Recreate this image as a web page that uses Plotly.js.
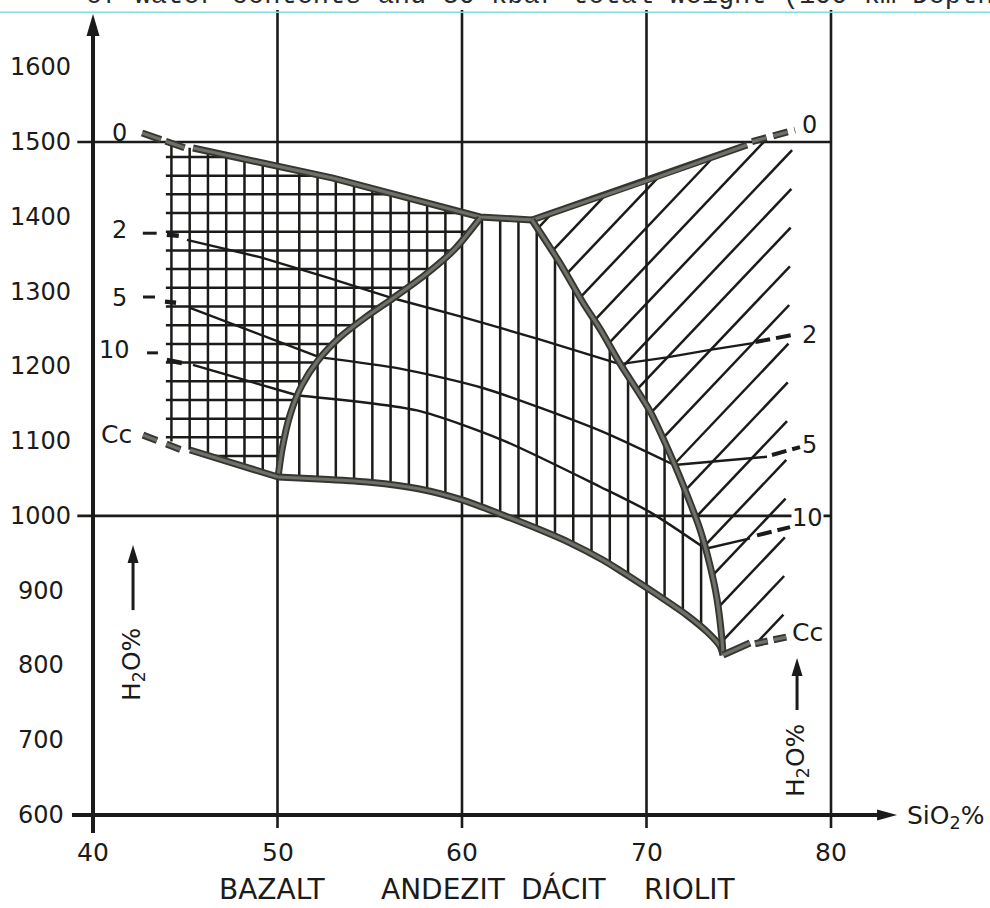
<!DOCTYPE html>
<html><head><meta charset="utf-8">
<script src="https://cdn.plot.ly/plotly-3.0.1.min.js"></script>
<style>html,body{margin:0;padding:0;background:#fff;}#chart{width:990px;height:908px;}</style>
</head><body><div id="chart"></div>
<script>
// ---------- axis / label values ----------
const xTickVals = [40, 50, 60, 70, 80];
const yTickVals = [600, 700, 800, 900, 1000, 1100, 1200, 1300, 1400, 1500, 1600];
const rockNames = ['BAZALT', 'ANDEZIT', 'DÁCIT', 'RIOLIT'];
const rockX = [49.69, 59.02, 65.53, 72.36];
const gridX = [50, 60, 70, 80];
const gridY = [1000, 1500];

// ---------- thick phase boundaries (SiO2 %, temperature) ----------
const liquidusLeft  = [[45.42,1491.9],[53.01,1451.6],[60.98,1399.7],[63.79,1395.7]];
const liquidusRight = [[63.79,1395.7],[70.46,1451.8],[75.45,1496]];
const innerBoundary = [[50.03,1052],[50.24,1088],[50.68,1135],[51.33,1175],[52.20,1208],[53.39,1239],[54.74,1265],[56.26,1291],[57.99,1322],[59.62,1357],[60.98,1398]];
const rightBoundary = [[63.79,1395.7],[65.31,1338],[66.56,1285],[67.48,1250],[68.56,1204],[70.19,1140],[71.38,1077],[72.20,1028],[72.9,982],[73.44,934],[73.82,889],[74.09,835],[74.15,814]];
const solidusLower  = [[50.03,1052],[52.5,1049],[55.0,1045],[57.7,1036],[60.05,1021],[62.22,1001],[64.07,983],[65.85,964],[67.64,941],[68.56,927],[70.25,900],[72.2,867],[73.28,845],[73.98,826],[74.15,814]];
const solidusLeft   = [[45.26,1088.1],[50.03,1052]];
const solidusRight  = [[74.15,814],[75.61,830]];
// dashed thick extensions
const dash0Left   = [[42.66,1512],[44.99,1492]];
const dash0Right  = [[75.72,1500.5],[78.05,1516]];
const dashCcLeft  = [[42.71,1108],[44.82,1088]];
const dashCcRight = [[75.88,829],[77.78,839]];

// ---------- water isopleths (2, 5, 10 % H2O) ----------
const water2L  = [[45.09,1369],[49.05,1346],[52.68,1319],[56.26,1291]];
const water2M  = [[56.26,1291],[60.0,1266],[64.2,1236],[68.56,1203]];
const water2R  = [[68.56,1203],[71.11,1212],[73.44,1222],[75.77,1231]];
const water5L  = [[45.26,1278],[52.3,1212]];
const water5M  = [[52.3,1212],[56.64,1197],[61.14,1171],[67.48,1114],[71.5,1068]];
const water5R  = [[71.5,1068],[76.53,1079]];
const water10L = [[45.42,1202],[51.1,1161]];
const water10M = [[51.1,1161],[57.56,1141],[62.22,1101],[67.48,1039],[70.19,1005],[73.2,956]];
const water10R = [[73.2,956],[75.61,970]];
const dash2Right  = [[75.9,1232.5],[77.94,1242]];
const dash5Right  = [[76.8,1081.4],[78.32,1092]];
const dash10Right = [[75.99,974],[77.78,985]];
const leftLeaders = [
  [[42.7,1378],[43.45,1378]], [[44.0,1376],[44.65,1374.5]],
  [[42.71,1292.7],[43.36,1292.7]], [[43.9,1286.5],[44.5,1285]],
  [[42.93,1218],[43.52,1218]], [[44.0,1208.5],[44.82,1204.4]]
];

// ---------- curve labels ----------
const curveLabels = ['0','2','5','10','Cc'];
const labelPosLeft  = [[41.46,1512.6],[41.46,1382.3],[41.44,1290.7],[41.19,1221.8],[41.27,1108.2]];
const labelPosRight = [[78.81,1522.7],[78.86,1241.9],[78.86,1094.8],[78.75,997.2],[78.75,844.7]];

// ---------- arrows ----------
const yAxisArrow = {x:40, from:575.9, to:1671};
const xAxisArrow = {y:600, from:38.86, to:83.58};
const waterArrowLeft  = {x:42.17, from:874, to:961};
const waterArrowRight = {x:78.16, from:740.4, to:810};

// ---------- view ----------
const X0 = 34.959, X1 = 88.618, Y0 = 475.63, Y1 = 1689.86;
const W = 990, H = 908;
const SX = W / (X1 - X0), SY = H / (Y1 - Y0);

const INK = '#1b1b19';
const THICK_OUT = '#353632', THICK_IN = '#6f7169';
const FONT = 'DejaVu Sans, Liberation Sans, sans-serif';

// ---------- helpers ----------
function xy(pts){ return {x: pts.map(p => p[0]), y: pts.map(p => p[1])}; }
function lineTrace(pts, color, width, shape, dash){
  return Object.assign({type:'scatter', mode:'lines', hoverinfo:'skip',
    line:{color:color, width:width, shape: shape || 'linear', smoothing: 0.7, dash: dash || 'solid'}}, xy(pts));
}
function thick(pts, shape, dash){
  return [lineTrace(pts, THICK_OUT, 7, shape, dash), lineTrace(pts, THICK_IN, 3.2, shape, dash)];
}
// clip an infinite line (point p, direction d in pixel-scaled space) to a polygon
function clip(poly, p, d){
  const P = poly.map(q => [q[0]*SX, q[1]*SY]);
  const ts = [];
  for (let i = 0; i < P.length; i++){
    const a = P[i], b = P[(i+1) % P.length];
    const ex = b[0]-a[0], ey = b[1]-a[1];
    const den = d[0]*ey - d[1]*ex;
    if (Math.abs(den) < 1e-9) continue;
    const ax = a[0]-p[0], ay = a[1]-p[1];
    const t = (ax*ey - ay*ex) / den;
    const s = (ax*d[1] - ay*d[0]) / den;
    if (s >= 0 && s < 1) ts.push(t);
  }
  ts.sort((u,v) => u-v);
  const segs = [];
  for (let i = 0; i+1 < ts.length; i += 2){
    segs.push([[(p[0]+ts[i]*d[0])/SX, (p[1]+ts[i]*d[1])/SY],
               [(p[0]+ts[i+1]*d[0])/SX, (p[1]+ts[i+1]*d[1])/SY]]);
  }
  return segs;
}
function segTrace(segs, color, width){
  const x = [], y = [];
  segs.forEach(s => { x.push(s[0][0], s[1][0], null); y.push(s[0][1], s[1][1], null); });
  return {type:'scatter', mode:'lines', hoverinfo:'skip', x:x, y:y, line:{color:color, width:width}};
}
function arrowHead(xt, yt, dx, dy, len, hw){
  const bx = xt - len*dx/SX, by = yt - len*dy/SY;
  const px = -dy, py = dx;
  const p1 = [bx + hw*px/SX, by + hw*py/SY];
  const p2 = [bx - hw*px/SX, by - hw*py/SY];
  return {type:'path', xref:'x', yref:'y', layer:'above',
    path:'M'+xt+','+yt+' L'+p1[0]+','+p1[1]+' L'+p2[0]+','+p2[1]+' Z',
    fillcolor:INK, line:{width:0}};
}

// ---------- hatch regions ----------
const outerPoly = [[44.2,1495], ...liquidusLeft, ...rightBoundary.slice(1),
  ...solidusLower.slice(0,-1).reverse(), solidusLeft[0], [44.2,1100]];
const crossPoly = [[43.95,1098],[43.95,1495], ...liquidusLeft.slice(0,3),
  ...innerBoundary.slice().reverse(), solidusLeft[0], [44.3,1096]];
const diagPoly = [...liquidusRight, [75.9,1500],[77.9,1500],[77.4,840], solidusRight[1], solidusRight[0],
  ...rightBoundary.slice(0,-1).reverse()];

let hatch = [];
// vertical hatch
for (let k = 0; k < 30; k++){
  const xv = 44.25 + 0.99*k;
  if (gridX.some(g => Math.abs(g - xv) < 0.3)) continue;
  hatch = hatch.concat(clip(outerPoly, [xv*SX, 0], [0, 1]));
}
// horizontal hatch (crossed region)
for (let k = -2; k <= 16; k++){
  const yv = 1105 + 25*k;
  hatch = hatch.concat(clip(crossPoly, [0, yv*SY], [1, 0]));
}
// diagonal hatch (rhyolite field)
const th = 46.5 * Math.PI / 180;
for (let k = -8; k <= 14; k++){
  const y0 = 1488 - 50.75*k;
  hatch = hatch.concat(clip(diagPoly, [77.85*SX, y0*SY], [Math.cos(th), Math.sin(th)]));
}

// ---------- traces ----------
const traces = [];
traces.push(segTrace(hatch, INK, 2.5));
[water2L, water5L, water10L, water5R, water10R, water2R].forEach(s => traces.push(lineTrace(s, INK, 2.4)));
[water2M, water5M, water10M].forEach(s => traces.push(lineTrace(s, INK, 2.4, 'spline')));
[dash2Right, dash5Right, dash10Right].forEach(s => traces.push(lineTrace(s, INK, 4, 'linear', '15px,6px')));
leftLeaders.forEach((s, i) => traces.push(lineTrace(s, INK, i % 2 ? 4.5 : 3)));
traces.push(...thick(liquidusLeft));
traces.push(...thick(liquidusRight));
traces.push(...thick(innerBoundary, 'spline'));
traces.push(...thick(solidusLower, 'spline'));
traces.push(...thick(rightBoundary, 'spline'));
traces.push(...thick(solidusLeft));
traces.push(...thick(solidusRight));
traces.push(...thick(dash0Left, 'linear', '20px,5px'));
traces.push(...thick(dash0Right, 'linear', '15px,7px'));
traces.push(...thick(dashCcLeft, 'linear', '15px,10px'));
traces.push(...thick(dashCcRight, 'linear', '13px,6px'));

// ---------- shapes ----------
const shapes = [];
shapes.push({type:'line', xref:'paper', yref:'paper', x0:0, x1:1, y0:1-12.3/H, y1:1-12.3/H,
  line:{color:'#86dcdc', width:1.5}, layer:'above'});
gridX.forEach(g => shapes.push({type:'line', xref:'x', yref:'y', x0:g, x1:g, y0:582.6, y1:1676.5,
  line:{color:INK, width:2.6}, layer:'below'}));
gridY.forEach(g => shapes.push({type:'line', xref:'x', yref:'y', x0:39.15, x1:80, y0:g, y1:g,
  line:{color:INK, width:2.6}, layer:'below'}));
shapes.push({type:'line', xref:'x', yref:'y', x0:yAxisArrow.x, x1:yAxisArrow.x, y0:yAxisArrow.from, y1:yAxisArrow.to - 16/SY,
  line:{color:INK, width:4}, layer:'above'});
shapes.push(arrowHead(yAxisArrow.x, yAxisArrow.to, 0, 1, 22, 6.5));
shapes.push({type:'line', xref:'x', yref:'y', x0:xAxisArrow.from, x1:xAxisArrow.to - 14/SX, y0:xAxisArrow.y, y1:xAxisArrow.y,
  line:{color:INK, width:4}, layer:'above'});
shapes.push(arrowHead(xAxisArrow.to, xAxisArrow.y, 1, 0, 20, 5.5));
[waterArrowLeft, waterArrowRight].forEach(a => {
  shapes.push({type:'line', xref:'x', yref:'y', x0:a.x, x1:a.x, y0:a.from, y1:a.to - 14/SY,
    line:{color:INK, width:3}, layer:'above'});
  shapes.push(arrowHead(a.x, a.to, 0, 1, 18, 5.5));
});

// ---------- annotations ----------
const ann = [];
function txt(x, y, text, size, extra){
  return Object.assign({xref:'x', yref:'y', x:x, y:y, text:text, showarrow:false,
    font:{family:FONT, size:size, color:INK}, xanchor:'center', yanchor:'middle'}, extra || {});
}
yTickVals.forEach(v => ann.push(txt(37.18, v, String(v), 24)));
xTickVals.forEach(v => ann.push(txt(v, 549.2, String(v), 25)));
rockNames.forEach((n, i) => ann.push(txt(rockX[i], 501, n, 28)));
curveLabels.forEach((l, i) => {
  const sz = l === 'Cc' ? 25 : 24;
  ann.push(txt(labelPosLeft[i][0], labelPosLeft[i][1], l, sz));
  ann.push(txt(labelPosRight[i][0], labelPosRight[i][1], l, sz,
    l === '10' ? {bgcolor:'#ffffff', borderpad:0} : {}));
});
ann.push(txt(84.01, 597.3, 'SiO<sub>2</sub>%', 25, {xanchor:'left'}));
ann.push(txt(42.17, 800.6, 'H<sub>2</sub>O%', 25, {textangle:-90}));
ann.push(txt(78.16, 672.2, 'H<sub>2</sub>O%', 25, {textangle:-90}));
ann.push({xref:'paper', yref:'paper', x:83.8/W, y:1, xanchor:'left', yanchor:'top', yshift:21,
  text:'of water contents and 30 kbar total weight (100 km Depth)', showarrow:false,
  font:{family:'Liberation Mono, Courier New, monospace', size:27, color:'#2a2a2a'}});

const layout = {
  width:W, height:H, margin:{l:0, r:0, t:0, b:0, pad:0},
  paper_bgcolor:'#ffffff', plot_bgcolor:'#ffffff', showlegend:false,
  xaxis:{range:[X0, X1], visible:false, fixedrange:true},
  yaxis:{range:[Y0, Y1], visible:false, fixedrange:true},
  shapes:shapes, annotations:ann
};
Plotly.newPlot('chart', traces, layout, {staticPlot:true, displayModeBar:false});
</script>
</body></html>
